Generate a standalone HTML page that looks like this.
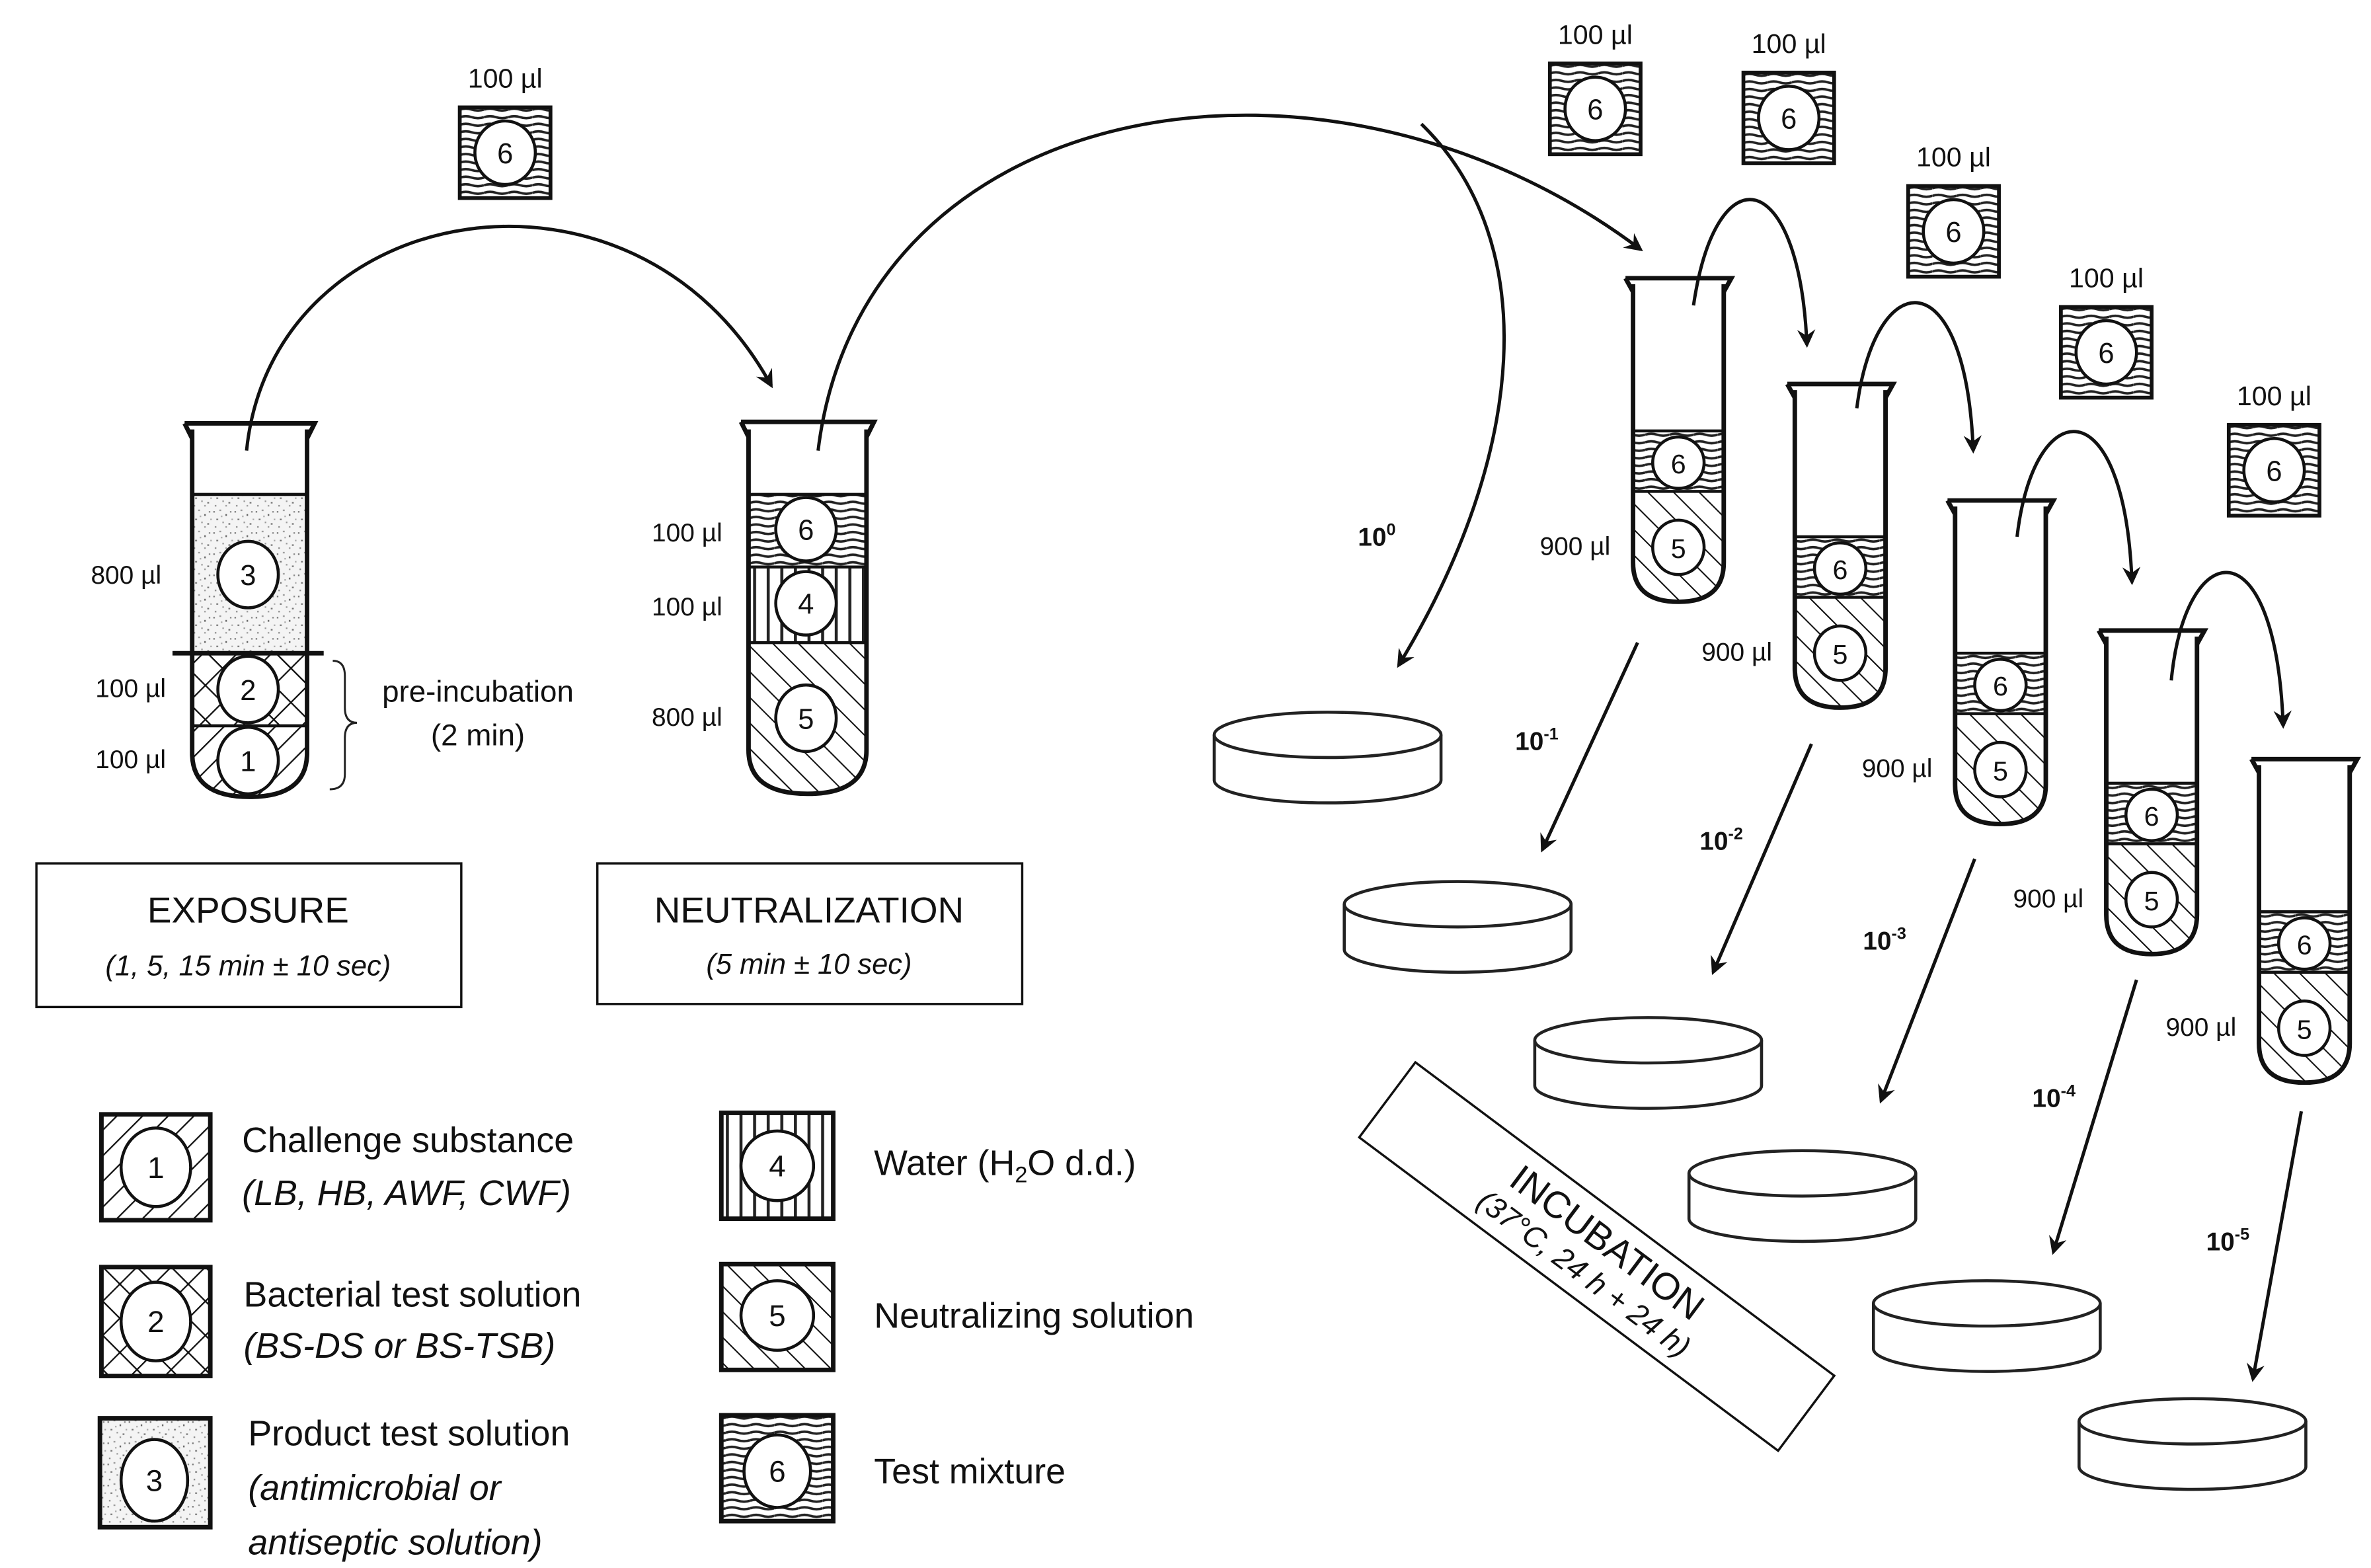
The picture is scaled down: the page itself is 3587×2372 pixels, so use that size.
<!DOCTYPE html>
<html><head><meta charset="utf-8"><style>
html,body{margin:0;padding:0;background:#fff;}
svg{display:block;}
text{font-family:"Liberation Sans",sans-serif;fill:#111;}
</style></head><body>
<svg width="3587" height="2372" viewBox="0 0 1568 1037" xmlns="http://www.w3.org/2000/svg">
<defs>
<pattern id="p1" width="12" height="12" patternUnits="userSpaceOnUse" patternTransform="rotate(45)">
<rect width="12" height="12" fill="#fff"/><line x1="0" y1="0" x2="0" y2="12" stroke="#111" stroke-width="2"/></pattern>
<pattern id="p5" width="12" height="12" patternUnits="userSpaceOnUse" patternTransform="rotate(-45)">
<rect width="12" height="12" fill="#fff"/><line x1="0" y1="0" x2="0" y2="12" stroke="#111" stroke-width="1.8"/></pattern>
<pattern id="p2" width="16" height="16" patternUnits="userSpaceOnUse" patternTransform="rotate(45)">
<rect width="16" height="16" fill="#fff"/><line x1="0" y1="0" x2="0" y2="16" stroke="#111" stroke-width="2"/><line x1="0" y1="0" x2="16" y2="0" stroke="#111" stroke-width="2"/></pattern>
<pattern id="p4" width="9" height="10" patternUnits="userSpaceOnUse">
<rect width="9" height="10" fill="#fff"/><line x1="4" y1="0" x2="4" y2="10" stroke="#222" stroke-width="2"/></pattern>
<pattern id="p6" width="16" height="5" patternUnits="userSpaceOnUse">
<rect width="16" height="5" fill="#fff"/><path d="M0 2.5 Q4 1.2 8 2.5 T16 2.5" fill="none" stroke="#222" stroke-width="1.6"/></pattern>
<pattern id="p3" width="14" height="14" patternUnits="userSpaceOnUse">
<rect width="14" height="14" fill="#f4f4f4"/>
<rect x="1" y="2" width="1" height="1" fill="#777"/><rect x="5" y="1" width="1.2" height="1" fill="#999"/><rect x="9" y="4" width="1" height="1.2" fill="#666"/><rect x="12" y="2" width="1" height="1" fill="#888"/><rect x="3" y="7" width="1.2" height="1" fill="#777"/><rect x="7" y="9" width="1" height="1" fill="#999"/><rect x="11" y="10" width="1.2" height="1" fill="#777"/><rect x="2" y="12" width="1" height="1" fill="#888"/><rect x="6" y="5" width="1" height="1" fill="#aaa"/><rect x="9" y="12" width="1" height="1" fill="#999"/><rect x="13" y="7" width="1" height="1" fill="#aaa"/>
</pattern>
<marker id="ah" viewBox="0 0 12 12" refX="10" refY="6" markerWidth="12" markerHeight="12" markerUnits="userSpaceOnUse" orient="auto">
<path d="M0 0 L12 6 L0 12 L4 6 Z" fill="#111"/></marker>
<clipPath id="c1"><path d="M127 284 V498 Q127 527 165 527 Q203 527 203 498 V284 Z"/></clipPath>
<clipPath id="c2"><path d="M495 284 V496 Q495 525 534 525 Q573 525 573 496 V284 Z"/></clipPath>
<clipPath id="cA"><path d="M1080 188 V372 Q1080 398 1110 398 Q1140 398 1140 372 V188 Z"/></clipPath>
</defs>
<rect width="1568" height="1037" fill="#fff"/>

<!-- Tube 1 -->
<g clip-path="url(#c1)">
<rect x="120" y="327" width="90" height="105" fill="url(#p3)"/>
<rect x="120" y="432" width="90" height="48" fill="url(#p2)"/>
<rect x="120" y="480" width="90" height="60" fill="url(#p1)"/>
</g>
<line x1="127" y1="327" x2="203" y2="327" stroke="#111" stroke-width="2"/>
<line x1="114" y1="432" x2="214" y2="432" stroke="#111" stroke-width="3"/>
<line x1="127" y1="480" x2="203" y2="480" stroke="#111" stroke-width="2"/>
<path d="M127 284 V498 Q127 527 165 527 Q203 527 203 498 V284" fill="none" stroke="#111" stroke-width="3"/>
<path d="M122 280 H208 L203 290 M122 280 L127 290" fill="none" stroke="#111" stroke-width="3"/>
<ellipse cx="164" cy="380" rx="20" ry="22" fill="#fff" stroke="#111" stroke-width="2"/><text x="164" y="387" font-size="19" text-anchor="middle">3</text>
<ellipse cx="164" cy="456" rx="20" ry="22" fill="#fff" stroke="#111" stroke-width="2"/><text x="164" y="463" font-size="19" text-anchor="middle">2</text>
<ellipse cx="164" cy="503" rx="20" ry="22" fill="#fff" stroke="#111" stroke-width="2"/><text x="164" y="510" font-size="19" text-anchor="middle">1</text>
<text x="60" y="386" font-size="17">800 µl</text>
<text x="63" y="461" font-size="17">100 µl</text>
<text x="63" y="508" font-size="17">100 µl</text>
<path d="M220 437 Q228 437 228 447 V468 Q228 478 236 478 Q228 478 228 488 V512 Q228 522 218 522" fill="none" stroke="#222" stroke-width="1.3"/>
<text x="316" y="464" font-size="20" text-anchor="middle">pre-incubation</text>
<text x="316" y="493" font-size="20" text-anchor="middle">(2 min)</text>

<!-- Tube 2 -->
<g clip-path="url(#c2)">
<rect x="490" y="327" width="90" height="48" fill="url(#p6)"/>
<rect x="490" y="375" width="90" height="50" fill="url(#p4)"/>
<rect x="490" y="425" width="90" height="110" fill="url(#p5)"/>
</g>
<line x1="495" y1="327" x2="573" y2="327" stroke="#111" stroke-width="2"/>
<line x1="495" y1="375" x2="573" y2="375" stroke="#111" stroke-width="2"/>
<line x1="495" y1="425" x2="573" y2="425" stroke="#111" stroke-width="2"/>
<path d="M495 284 V496 Q495 525 534 525 Q573 525 573 496 V284" fill="none" stroke="#111" stroke-width="3"/>
<path d="M490 279 H578 L573 289 M490 279 L495 289" fill="none" stroke="#111" stroke-width="3"/>
<ellipse cx="533" cy="350" rx="20" ry="21" fill="#fff" stroke="#111" stroke-width="2"/><text x="533" y="357" font-size="19" text-anchor="middle">6</text>
<ellipse cx="533" cy="399" rx="20" ry="21" fill="#fff" stroke="#111" stroke-width="2"/><text x="533" y="406" font-size="19" text-anchor="middle">4</text>
<ellipse cx="533" cy="475" rx="20" ry="22" fill="#fff" stroke="#111" stroke-width="2"/><text x="533" y="482" font-size="19" text-anchor="middle">5</text>
<text x="431" y="358" font-size="17">100 µl</text>
<text x="431" y="407" font-size="17">100 µl</text>
<text x="431" y="480" font-size="17">800 µl</text>

<!-- 6 squares -->
<g id="sq">
<rect x="304" y="71" width="60" height="60" fill="url(#p6)" stroke="#111" stroke-width="2.5"/>
<ellipse cx="334" cy="101" rx="20" ry="21" fill="#fff" stroke="#111" stroke-width="2"/><text x="334" y="108" font-size="19" text-anchor="middle">6</text>
<text x="334" y="58" font-size="18" text-anchor="middle">100 µl</text>
</g>
<use href="#sq" x="721" y="-29"/>
<use href="#sq" x="849" y="-23"/>
<use href="#sq" x="958" y="52"/>
<use href="#sq" x="1059" y="132"/>
<use href="#sq" x="1170" y="210"/>

<!-- dilution tubes -->
<g id="dt">
<g clip-path="url(#cA)">
<rect x="1075" y="285" width="70" height="40" fill="url(#p6)"/>
<rect x="1075" y="325" width="70" height="80" fill="url(#p5)"/>
</g>
<line x1="1080" y1="285" x2="1140" y2="285" stroke="#111" stroke-width="2"/>
<line x1="1080" y1="325" x2="1140" y2="325" stroke="#111" stroke-width="2"/>
<path d="M1080 188 V372 Q1080 398 1110 398 Q1140 398 1140 372 V188" fill="none" stroke="#111" stroke-width="3"/>
<path d="M1075 184 H1145 L1140 193 M1075 184 L1080 193" fill="none" stroke="#111" stroke-width="3"/>
<ellipse cx="1110" cy="306" rx="17" ry="17" fill="#fff" stroke="#111" stroke-width="2"/><text x="1110" y="313" font-size="18" text-anchor="middle">6</text>
<ellipse cx="1110" cy="362" rx="17" ry="18" fill="#fff" stroke="#111" stroke-width="2"/><text x="1110" y="369" font-size="18" text-anchor="middle">5</text>
<text x="1065" y="367" font-size="17" text-anchor="end">900 µl</text>
</g>
<use href="#dt" x="107" y="70"/>
<use href="#dt" x="213" y="147"/>
<use href="#dt" x="313" y="233"/>
<use href="#dt" x="414" y="318"/>

<!-- plates -->
<g id="pl" fill="#fff" stroke="#222" stroke-width="2">
<path d="M803 486 V516 A75 15 0 0 0 953 516 V486"/>
<ellipse cx="878" cy="486" rx="75" ry="15"/>
</g>
<use href="#pl" x="86" y="112"/>
<use href="#pl" x="212" y="202"/>
<use href="#pl" x="314" y="290"/>
<use href="#pl" x="436" y="376"/>
<use href="#pl" x="572" y="454"/>

<!-- arrows -->
<g fill="none" stroke="#111" stroke-width="2.2" marker-end="url(#ah)">
<path d="M163 298 C180 130 420 90 510 255"/>
<path d="M541 298 C570 60 880 10 1085 165"/>
<path d="M940 82 C1020 160 1010 300 925 440"/>
<path d="M1120 202 C1135 100 1190 110 1195 228"/>
<path d="M1228 270 C1240 175 1300 170 1305 298"/>
<path d="M1334 355 C1345 260 1405 255 1410 385"/>
<path d="M1436 450 C1445 355 1505 345 1510 480"/>
<path d="M1083 425 L1020 562"/>
<path d="M1198 492 L1133 643"/>
<path d="M1306 568 L1244 728"/>
<path d="M1413 648 L1358 828"/>
<path d="M1522 735 L1490 912"/>
</g>

<g font-size="17" font-weight="bold">
<text x="898" y="361">10<tspan font-size="11" dy="-7">0</tspan></text>
<text x="1002" y="496">10<tspan font-size="11" dy="-7">-1</tspan></text>
<text x="1124" y="562">10<tspan font-size="11" dy="-7">-2</tspan></text>
<text x="1232" y="628">10<tspan font-size="11" dy="-7">-3</tspan></text>
<text x="1344" y="732">10<tspan font-size="11" dy="-7">-4</tspan></text>
<text x="1459" y="827">10<tspan font-size="11" dy="-7">-5</tspan></text>
</g>

<rect x="24" y="571" width="281" height="95" fill="none" stroke="#111" stroke-width="1.5"/>
<text x="164" y="610" font-size="24" text-anchor="middle">EXPOSURE</text>
<text x="164" y="645" font-size="19" font-style="italic" text-anchor="middle">(1, 5, 15 min ± 10 sec)</text>
<rect x="395" y="571" width="281" height="93" fill="none" stroke="#111" stroke-width="1.5"/>
<text x="535" y="610" font-size="24" text-anchor="middle">NEUTRALIZATION</text>
<text x="535" y="644" font-size="19" font-style="italic" text-anchor="middle">(5 min ± 10 sec)</text>
<g transform="translate(1056,831) rotate(36.8)">
<rect x="-173" y="-31" width="346" height="62" fill="#fff" stroke="#111" stroke-width="1.5"/>
<text x="0" y="-3" font-size="25" text-anchor="middle">INCUBATION</text>
<text x="0" y="21" font-size="20" font-style="italic" text-anchor="middle">(37°C, 24 h + 24 h)</text>
</g>

<g stroke="#111" stroke-width="3">
<rect x="67" y="737" width="72" height="70" fill="url(#p1)"/>
<rect x="67" y="838" width="72" height="72" fill="url(#p2)"/>
<rect x="66" y="938" width="73" height="72" fill="url(#p3)"/>
<rect x="477" y="736" width="74" height="70" fill="url(#p4)"/>
<rect x="477" y="836" width="74" height="70" fill="url(#p5)"/>
<rect x="477" y="936" width="74" height="70" fill="url(#p6)"/>
</g>
<g fill="#fff" stroke="#111" stroke-width="2">
<ellipse cx="103" cy="772" rx="23" ry="26"/>
<ellipse cx="103" cy="874" rx="23" ry="26"/>
<ellipse cx="102" cy="979" rx="22" ry="27"/>
<ellipse cx="514" cy="771" rx="24" ry="23"/>
<ellipse cx="514" cy="870" rx="24" ry="23"/>
<ellipse cx="514" cy="973" rx="22" ry="24"/>
</g>
<g font-size="20" text-anchor="middle">
<text x="103" y="779">1</text><text x="103" y="881">2</text><text x="102" y="986">3</text>
<text x="514" y="778">4</text><text x="514" y="877">5</text><text x="514" y="980">6</text>
</g>
<g font-size="23.5">
<text x="160" y="762">Challenge substance</text>
<text x="160" y="797" font-style="italic">(LB, HB, AWF, CWF)</text>
<text x="161" y="864">Bacterial test solution</text>
<text x="161" y="898" font-style="italic">(BS-DS or BS-TSB)</text>
<text x="164" y="956">Product test solution</text>
<text x="164" y="992" font-style="italic">(antimicrobial or</text>
<text x="164" y="1028" font-style="italic">antiseptic solution)</text>
<text x="578" y="777">Water (H<tspan font-size="15" dy="5">2</tspan><tspan dy="-5">O d.d.)</tspan></text>
<text x="578" y="878">Neutralizing solution</text>
<text x="578" y="981">Test mixture</text>
</g>
</svg>
</body></html>
